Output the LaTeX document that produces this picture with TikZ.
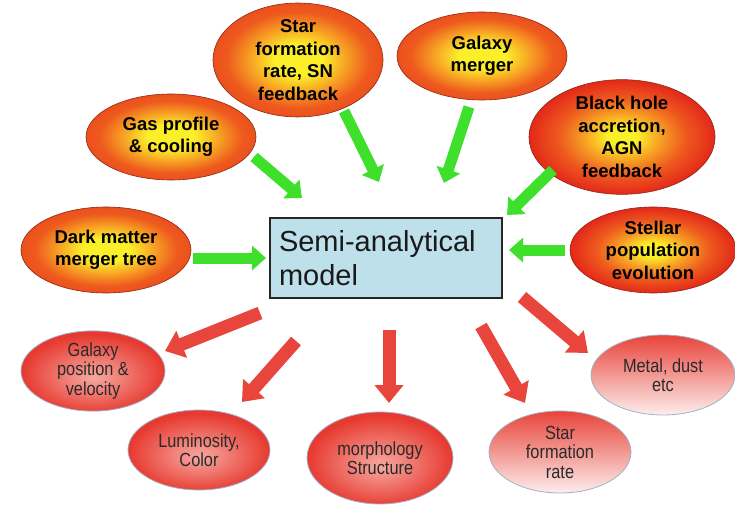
\documentclass[tikz,border=0pt]{standalone}
\usepackage{fontspec}
\setmainfont{Liberation Sans}
\setsansfont{Liberation Sans}
\newfontfamily\narrowsans[FakeStretch=0.86]{Liberation Sans}
\usetikzlibrary{shapes.geometric,arrows.meta}
\definecolor{yel}{HTML}{FBEF2A}
\definecolor{orgA}{HTML}{F7A324}
\definecolor{orgB}{HTML}{EE5A1E}
\definecolor{redA}{HTML}{E3281A}
\definecolor{pinkC}{HTML}{F6A8A0}
\definecolor{redB}{HTML}{E7392F}
\definecolor{redtop}{HTML}{E8443A}
\definecolor{pinkbot}{HTML}{FDEDEC}
\definecolor{boxfill}{HTML}{BEE0EA}
\definecolor{grn}{HTML}{3EE02C}
\definecolor{redarr}{HTML}{E8453C}
\definecolor{topedge}{HTML}{8A2A14}
\definecolor{botedge}{HTML}{A0B2C8}
\definecolor{txtgray}{HTML}{2A2A2A}
\pgfdeclareradialshading{glowA}{\pgfpoint{0bp}{0bp}}{color(0bp)=(yel); color(7bp)=(yel); color(14bp)=(orgA); color(21bp)=(orgB); color(25bp)=(orgB!80!redA); color(50bp)=(redA)}
\pgfdeclareradialshading{glowB}{\pgfpoint{0bp}{0bp}}{color(0bp)=(yel); color(4bp)=(yel); color(10bp)=(orgA); color(17bp)=(orgB); color(25bp)=(redA); color(50bp)=(redA)}
\pgfdeclareradialshading{pinkglow}{\pgfpoint{0bp}{-4bp}}{color(0bp)=(pinkC); color(8bp)=(pinkC!70!redB); color(25bp)=(redB); color(50bp)=(redB)}
\tikzset{
  topell/.style={ellipse, draw=topedge, line width=0.6pt, shading=glowA, inner sep=0pt,
    align=center, font=\bfseries\fontsize{18.5}{22.5}\selectfont, text=black},
  topellred/.style={topell, shading=glowB},
  botell/.style={ellipse, draw=botedge, line width=0.8pt, shading=pinkglow, inner sep=0pt,
    align=center, font=\narrowsans\fontsize{19}{19.5}\selectfont, text=txtgray},
  botellfade/.style={botell, shading=axis, top color=redtop, middle color=redtop!45!pinkbot, bottom color=pinkbot},
  samgbox/.style={rectangle, draw=black!85, line width=1.5pt, fill=boxfill, inner sep=0pt,
    minimum width=232pt, minimum height=80pt, text width=214pt, align=left,
    font=\fontsize{29}{34}\selectfont, text=black!90},
  grnarrow/.style={draw=grn, line width=11pt, -{Triangle[length=14pt,width=24pt]}},
  redarrow/.style={draw=redarr, line width=13pt, -{Triangle[length=18pt,width=28pt]}}
}
\begin{document}
\begin{tikzpicture}[x=1pt,y=-1pt]
\useasboundingbox (0,0) rectangle (735,505);
% central box
\node[samgbox] (sam) at (386,258) {Semi-analytical\\model};
% input ellipses
\node[topell, minimum width=170pt, minimum height=104pt] (sfr) at (298,60) {Star\\formation\\rate, SN\\feedback};
\node[topell, minimum width=170pt, minimum height=88pt] (merger) at (482,56) {Galaxy\\merger};
\node[topellred, minimum width=186pt, minimum height=87pt] (bh) at (622,137) {Black hole\\accretion,\\AGN\\feedback};
\node[topellred, minimum width=166pt, minimum height=86pt] (stellar) at (653,250) {Stellar\\population\\evolution};
\node[topell, minimum width=170pt, minimum height=86pt] (gas) at (171,137) {Gas profile\\\&\ cooling};
\node[topell, minimum width=170pt, minimum height=86pt] (dm) at (106,250) {Dark matter\\merger tree};
% output ellipses
\node[botell, minimum width=144pt, minimum height=80pt] (galpos) at (93,371) {Galaxy\\position \&\\velocity};
\node[botell, minimum width=142pt, minimum height=80pt] (lum) at (199,450) {Luminosity,\\Color};
\node[botell, minimum width=146pt, minimum height=92pt] (morph) at (380,458) {morphology\\Structure};
\node[botellfade, minimum width=142pt, minimum height=82pt] (sfrout) at (560,452) {Star\\formation\\rate};
\node[botellfade, minimum width=144pt, minimum height=80pt] (metal) at (663,375) {Metal, dust\\etc};
% arrow end points
\coordinate (dmA) at (193,258);   \coordinate (dmB) at (266,258);
\coordinate (gasA) at (254,157);  \coordinate (gasB) at (302,198);
\coordinate (sfrA) at (344,111);  \coordinate (sfrB) at (379,182);
\coordinate (merA) at (469,107);  \coordinate (merB) at (444,183);
\coordinate (bhA) at (553,170);   \coordinate (bhB) at (507,215);
\coordinate (stA) at (565,250);   \coordinate (stB) at (509,250);
\coordinate (gpA) at (260,313);   \coordinate (gpB) at (165,351);
\coordinate (luA) at (296,341);   \coordinate (luB) at (242,402);
\coordinate (moA) at (389,330);   \coordinate (moB) at (389,403);
\coordinate (sfA) at (481,326);   \coordinate (sfB) at (525,403);
\coordinate (meA) at (522,297);   \coordinate (meB) at (588,353);
% green input arrows
\draw[grnarrow] (dmA) -- (dmB);
\draw[grnarrow] (gasA) -- (gasB);
\draw[grnarrow] (sfrA) -- (sfrB);
\draw[grnarrow] (merA) -- (merB);
\draw[grnarrow] (bhA) -- (bhB);
\draw[grnarrow] (stA) -- (stB);
% red output arrows
\draw[redarrow] (gpA) -- (gpB);
\draw[redarrow] (luA) -- (luB);
\draw[redarrow] (moA) -- (moB);
\draw[redarrow] (sfA) -- (sfB);
\draw[redarrow] (meA) -- (meB);
\end{tikzpicture}
\end{document}
